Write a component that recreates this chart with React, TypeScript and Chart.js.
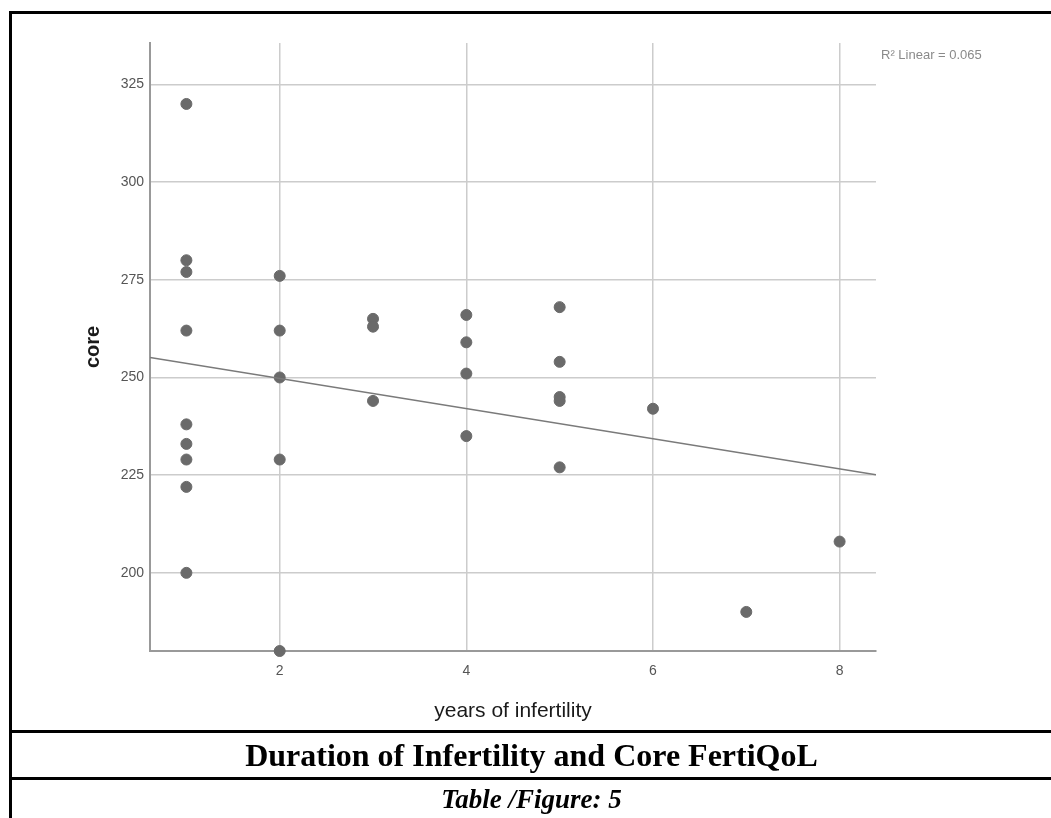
import React, { useEffect, useRef } from "react";
import { Chart, registerables } from "chart.js";

Chart.register(...registerables);

// ---- data ----
const yearsOfInfertility = [1, 1, 1, 1, 1, 1, 1, 1, 1, 2, 2, 2, 2, 2, 3, 3, 3, 4, 4, 4, 4, 5, 5, 5, 5, 5, 6, 7, 8];
const coreScores = [320, 280, 277, 262, 238, 233, 229, 222, 200, 276, 262, 250, 229, 180, 265, 263, 244, 266, 259, 251, 235, 268, 254, 245, 244, 227, 242, 190, 208];
const xAxisTitle = "years of infertility";
const yAxisTitle = "core";
const rSquaredLabel = "R\u00B2 Linear = 0.065";
const figureTitle = "Duration of Infertility and Core FertiQoL";
const figureCaption = "Table /Figure: 5";
const X_MIN = 0.61;
const X_MAX = 8.39;
const Y_MIN = 180;
const Y_MAX = 335.6;

function linearFit(xs: number[], ys: number[]) {
  const n = xs.length;
  const mx = xs.reduce((a, b) => a + b, 0) / n;
  const my = ys.reduce((a, b) => a + b, 0) / n;
  let sxy = 0;
  let sxx = 0;
  for (let i = 0; i < n; i++) {
    sxy += (xs[i] - mx) * (ys[i] - my);
    sxx += (xs[i] - mx) * (xs[i] - mx);
  }
  const slope = sxy / sxx;
  const intercept = my - slope * mx;
  return (x: number) => intercept + slope * x;
}

const SANS = "'Liberation Sans', Arial, sans-serif";
const SERIF = "'Liberation Serif', 'Times New Roman', serif";

export default function App() {
  const canvasRef = useRef<HTMLCanvasElement | null>(null);

  useEffect(() => {
    const canvas = canvasRef.current;
    if (!canvas) return;
    const fit = linearFit(yearsOfInfertility, coreScores);
    const points = yearsOfInfertility.map((x, i) => ({ x, y: coreScores[i] }));

    const rLabelPlugin = {
      id: "rLabel",
      afterDraw(chart: any) {
        const { ctx, chartArea } = chart;
        ctx.save();
        ctx.font = `13px ${SANS}`;
        ctx.fillStyle = "#8a8a8a";
        ctx.textAlign = "left";
        ctx.textBaseline = "middle";
        ctx.fillText(rSquaredLabel, chartArea.right + 5, chartArea.top + 12);
        ctx.restore();
      },
    };

    const chart = new Chart(canvas, {
      type: "scatter",
      data: {
        datasets: [
          {
            type: "line",
            data: [
              { x: X_MIN, y: fit(X_MIN) },
              { x: X_MAX, y: fit(X_MAX) },
            ],
            borderColor: "#7a7a7a",
            borderWidth: 1.5,
            pointRadius: 0,
            fill: false,
          } as any,
          {
            data: points,
            backgroundColor: "#6a6a6a",
            borderColor: "#6a6a6a",
            pointRadius: 5.5,
            pointHoverRadius: 5.5,
            clip: false,
          } as any,
        ],
      },
      options: {
        responsive: false,
        animation: false,
        layout: { padding: { left: 12, top: 43, right: 175, bottom: 0 } },
        plugins: {
          legend: { display: false },
          tooltip: { enabled: false },
        },
        scales: {
          x: {
            type: "linear",
            min: X_MIN,
            max: X_MAX,
            afterFit: (scale: any) => {
              scale.height = 79;
            },
            grid: { color: "#cccccc", lineWidth: 1.5, drawTicks: false },
            border: { color: "#999999", width: 2 },
            ticks: {
              stepSize: 2,
              includeBounds: false,
              padding: 12,
              color: "#555555",
              font: { family: SANS, size: 14 },
            },
            title: {
              display: true,
              text: xAxisTitle,
              color: "#1a1a1a",
              font: { family: SANS, size: 21 },
              padding: { top: 0, bottom: 6 },
            },
          },
          y: {
            type: "linear",
            min: Y_MIN,
            max: Y_MAX,
            afterFit: (scale: any) => {
              scale.width = 138;
            },
            grid: { color: "#cccccc", lineWidth: 1.5, drawTicks: false },
            border: { color: "#999999", width: 2 },
            ticks: {
              stepSize: 25,
              includeBounds: false,
              padding: 6,
              color: "#555555",
              font: { family: SANS, size: 14 },
            },
            title: {
              display: true,
              text: yAxisTitle,
              color: "#1a1a1a",
              font: { family: SANS, size: 20, weight: "bold" },
              padding: { top: 69, bottom: 0 },
            },
          },
        },
      },
      plugins: [rLabelPlugin],
    });
    return () => chart.destroy();
  }, []);

  const line = (style: React.CSSProperties): React.CSSProperties => ({
    position: "absolute",
    background: "#000",
    ...style,
  });

  return (
    <div style={{ position: "absolute", left: 0, top: 0, width: 1051, height: 818, background: "#fff", overflow: "hidden" }}>
      <canvas ref={canvasRef} width={1051} height={730} style={{ position: "absolute", left: 0, top: 0, display: "block" }} />
      <div style={line({ left: 9, top: 11, width: 3, height: 807 })} />
      <div style={line({ left: 9, top: 11, width: 1042, height: 3 })} />
      <div style={line({ left: 9, top: 730, width: 1042, height: 3 })} />
      <div style={line({ left: 9, top: 777, width: 1042, height: 3 })} />
      <div
        style={{
          position: "absolute",
          left: 12,
          top: 733,
          width: 1039,
          height: 44,
          display: "flex",
          alignItems: "center",
          justifyContent: "center",
          fontFamily: SERIF,
          fontWeight: "bold",
          fontSize: 32,
          lineHeight: "44px",
          color: "#000",
        }}
      >
        {figureTitle}
      </div>
      <div
        style={{
          position: "absolute",
          left: 12,
          top: 780,
          width: 1039,
          height: 38,
          display: "flex",
          alignItems: "center",
          justifyContent: "center",
          fontFamily: SERIF,
          fontWeight: "bold",
          fontStyle: "italic",
          fontSize: 27,
          lineHeight: "38px",
          color: "#000",
        }}
      >
        {figureCaption}
      </div>
    </div>
  );
}
